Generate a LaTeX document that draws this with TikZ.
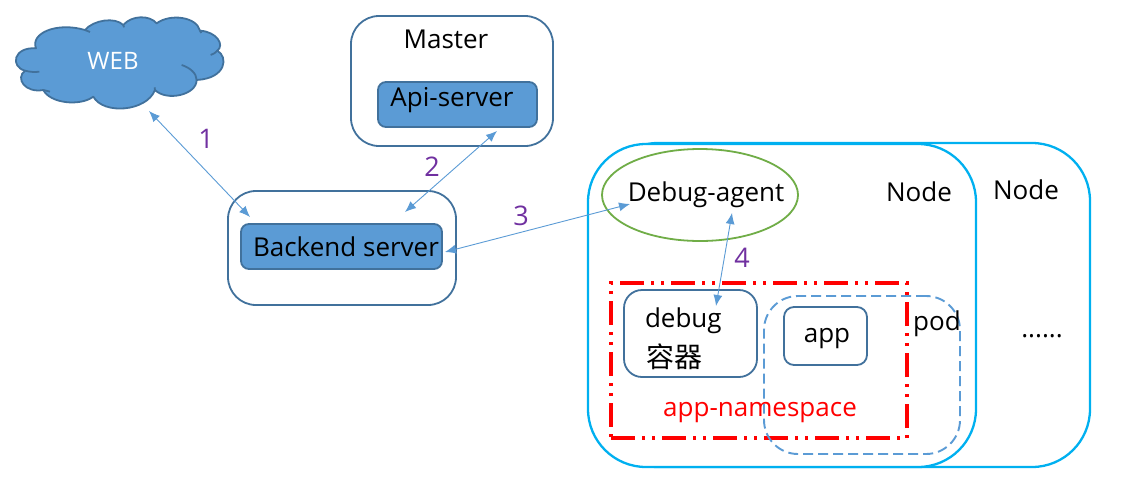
\documentclass[tikz,border=0pt]{standalone}
\usepackage{fontspec}
\setmainfont{Open Sans}
\newfontfamily\cjk{Noto Sans CJK SC}
\usetikzlibrary{shapes.geometric,arrows.meta}
\definecolor{boxline}{HTML}{41719C}
\definecolor{boxfill}{HTML}{5B9BD5}
\definecolor{nodeline}{HTML}{00B0F0}
\definecolor{agentline}{HTML}{70AD47}
\definecolor{numcol}{HTML}{7030A0}
\tikzset{
  every node/.style={inner sep=0pt,outer sep=0pt},
  box/.style={draw=boxline,line width=1.8pt,fill=white,rectangle,rounded corners=#1},
  box/.default=28pt,
  bluebox/.style={draw=boxline,line width=1.8pt,fill=boxfill,rectangle,rounded corners=8pt},
  k8snode/.style={draw=nodeline,line width=2.3pt,fill=white,rectangle,rounded corners=58pt},
  txt/.style={font=\fontsize{26}{30}\selectfont,text=black},
  num/.style={font=\fontsize{27}{30}\selectfont,text=numcol},
  link/.style={draw=boxfill,line width=0.9pt,{Latex[length=11pt,width=9pt]}-{Latex[length=11pt,width=9pt]}},
  nsbox/.style={draw=red,line width=3.05pt,dash pattern=on 24pt off 7pt on 3pt off 7pt on 3pt off 7pt},
  podbox/.style={draw=boxfill,line width=1.9pt,dash pattern=on 10pt off 5pt,rectangle,rounded corners=34pt},
}
\begin{document}
\begin{tikzpicture}[x=1pt,y=-1pt]
\useasboundingbox (0,0) rectangle (1123,485);
% cloud
\begin{scope}[x=0.3333pt,y=-0.3333pt]
\draw[fill=boxfill,draw=boxline,line width=1.8pt,line join=round]
 (108,145) .. controls (90,100) and (170,65) .. (255,90)
 .. controls (280,60) and (345,50) .. (370,75)
 .. controls (395,45) and (450,45) .. (470,70)
 .. controls (510,40) and (590,50) .. (600,92)
 .. controls (650,95) and (675,135) .. (652,152)
 .. controls (685,170) and (680,235) .. (590,240)
 .. controls (590,285) and (500,305) .. (465,270)
 .. controls (440,335) and (310,345) .. (280,290)
 .. controls (240,320) and (150,310) .. (130,270)
 .. controls (75,280) and (45,235) .. (75,212)
 .. controls (30,200) and (40,140) .. (108,145) -- cycle;
\draw[draw=boxline,line width=1.8pt]
 (75,212) .. controls (90,216) and (105,217) .. (118,215)
 (545,195) .. controls (570,203) and (590,220) .. (590,240)
 (632,165) .. controls (640,162) and (648,158) .. (652,152)
 (255,90) -- (270,96)
 (600,92) -- (604,99)
 (370,75) -- (372,82)
 (465,270) -- (464,262)
 (130,270) -- (150,275);
\end{scope}
\node[font=\fontsize{24}{28}\selectfont,text=white] (web) at (113,61) {WEB};
% master
\node[box,minimum width=202pt,minimum height=130pt] (master) at (452,81) {};
\node[txt] (mastertxt) at (446,39) {Master};
\node[bluebox,minimum width=159pt,minimum height=45pt] (api) at (457.5,104.5) {};
\node[txt] (apitxt) at (452,100) {Api-server};
% backend
\node[box,minimum width=228pt,minimum height=114pt] (backend) at (342,248) {};
\node[bluebox,minimum width=201pt,minimum height=45pt] (backendin) at (341.5,246.5) {};
\node[txt] (backendtxt) at (346,247) {Backend server};
% k8s nodes
\node[k8snode,minimum width=490pt,minimum height=324pt] (nodeb) at (845,305) {};
\node[k8snode,minimum width=388pt,minimum height=323pt] (nodea) at (782,305.5) {};
\node[txt] (nodeatxt) at (919,192) {Node};
\node[txt] (nodebtxt) at (1026,190) {Node};
\node[txt] (dots) at (1042,336) {......};
% agent
\node[ellipse,draw=agentline,line width=1.8pt,minimum width=196pt,minimum height=92pt] (agent) at (700,195) {};
\node[txt] (agenttxt) at (706,195) {Debug-agent};
% namespace
\node[nsbox,rectangle,minimum width=296pt,minimum height=155pt] (ns) at (759,360.5) {};
\node[box=18pt,minimum width=133pt,minimum height=87pt] (debug) at (690.5,333.5) {};
\node[txt,anchor=west] (debugtxt) at (645,321) {debug};
\node[anchor=west,font=\cjk\fontsize{28}{32}\selectfont] (cjktxt) at (646,357) {容器};
\node[podbox,minimum width=196pt,minimum height=158pt] (pod) at (862,375) {};
\node[box=10pt,minimum width=83pt,minimum height=58pt] (app) at (825.5,336) {};
\node[txt] (apptxt) at (827,339) {app};
\node[txt] (podtxt) at (937,324) {pod};
\node[txt,text=red] (nstxt) at (760,413) {app-namespace};
% numbers
\node[num] (n1) at (206,139) {1};
\node[num] (n2) at (432,167) {2};
\node[num] (n3) at (521,216) {3};
\node[num] (n4) at (742,258) {4};
% connectors
\draw[link] ([shift={(36,50)}]web.center) -- ([shift={(-92,-31)}]backend.center);
\draw[link] ([shift={(39.5,26.5)}]api.center) -- ([shift={(63,-36)}]backend.center);
\draw[link] ([shift={(103.5,5.5)}]backendin.center) -- ([shift={(-70,9)}]agent.center);
\draw[link] ([shift={(32,18)}]agent.center) -- ([shift={(25.5,-27.5)}]debug.center);
\end{tikzpicture}
\end{document}
